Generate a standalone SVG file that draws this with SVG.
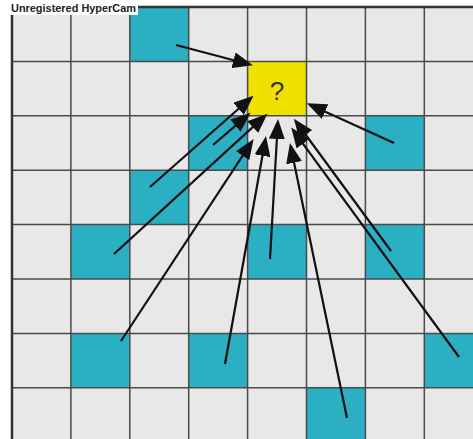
<svg xmlns="http://www.w3.org/2000/svg" width="473" height="439" viewBox="0 0 473 439">
<defs>
<style>
.bg{fill:#e8e8e8}
.teal{fill:#2bafc2}
.yel{fill:#f0e100}
.grid{stroke:#4a4a4a;stroke-width:1.5;fill:none}
.border{stroke:#333;stroke-width:2.5;fill:none}
.arr{stroke:#111;stroke-width:2.2;fill:none;marker-end:url(#ah)}
.hdr{font-family:"Liberation Sans",Arial,sans-serif;font-weight:bold;font-size:11px;fill:#222}
.q{font-family:"Liberation Sans",Arial,sans-serif;font-size:26px;fill:#333}
</style>
<marker id="ah" markerUnits="userSpaceOnUse" markerWidth="20" markerHeight="16" viewBox="0 0 20 16" refX="16" refY="8" orient="auto">
<path d="M0,0 L20,8 L0,16 z" fill="#111"/>
</marker>
</defs>
<rect x="0" y="0" width="473" height="439" fill="#fff"/>
<rect class="bg" x="12" y="7" width="461" height="432"/>
<g id="cell-r0c2"><rect class="teal" x="129.8" y="7" width="58.9" height="54.4"/></g>
<g id="target"><rect class="yel" x="247.6" y="61.4" width="58.9" height="54.4"/><text class="q" x="277" y="100" text-anchor="middle">?</text></g>
<g id="cell-r2c3"><rect class="teal" x="188.7" y="115.8" width="58.9" height="54.4"/></g>
<g id="cell-r2c6"><rect class="teal" x="365.4" y="115.8" width="58.9" height="54.4"/></g>
<g id="cell-r3c2"><rect class="teal" x="129.8" y="170.2" width="58.9" height="54.4"/></g>
<g id="cell-r4c1"><rect class="teal" x="70.9" y="224.6" width="58.9" height="54.4"/></g>
<g id="cell-r4c4"><rect class="teal" x="247.6" y="224.6" width="58.9" height="54.4"/></g>
<g id="cell-r4c6"><rect class="teal" x="365.4" y="224.6" width="58.9" height="54.4"/></g>
<g id="cell-r6c1"><rect class="teal" x="70.9" y="333.4" width="58.9" height="54.4"/></g>
<g id="cell-r6c3"><rect class="teal" x="188.7" y="333.4" width="58.9" height="54.4"/></g>
<g id="cell-r6c7"><rect class="teal" x="424.3" y="333.4" width="48.7" height="54.4"/></g>
<g id="cell-r7c5"><rect class="teal" x="306.5" y="387.8" width="58.9" height="51.2"/></g>
<g id="grid" class="grid">
<path d="M70.9,7V439M129.8,7V439M188.7,7V439M247.6,7V439M306.5,7V439M365.4,7V439M424.3,7V439"/>
<path d="M12,61.4H473M12,115.8H473M12,170.2H473M12,224.6H473M12,279H473M12,333.4H473M12,387.8H473"/>
</g>
<path class="border" d="M12,439V7H473"/>
<g id="connectors">
<line class="arr" x1="176" y1="45" x2="249" y2="64.3"/>
<line class="arr" x1="394" y1="143" x2="310.5" y2="105"/>
<line class="arr" x1="213" y1="145" x2="247.5" y2="115.3"/>
<line class="arr" x1="150" y1="187" x2="250.5" y2="98.3"/>
<line class="arr" x1="114" y1="254" x2="264.5" y2="116.4"/>
<line class="arr" x1="121" y1="341" x2="251.4" y2="142.3"/>
<line class="arr" x1="225" y1="364" x2="265.3" y2="140"/>
<line class="arr" x1="270" y1="259" x2="277.8" y2="123"/>
<line class="arr" x1="347" y1="418" x2="290.8" y2="147"/>
<line class="arr" x1="391" y1="251" x2="296.3" y2="122"/>
<line class="arr" x1="459" y1="357" x2="293.6" y2="130.8"/>
</g>
<g id="header">
<rect x="10" y="0" width="128" height="15" fill="#fff"/>
<text class="hdr" x="11" y="12" textLength="125" lengthAdjust="spacingAndGlyphs">Unregistered HyperCam</text>
</g>
</svg>
